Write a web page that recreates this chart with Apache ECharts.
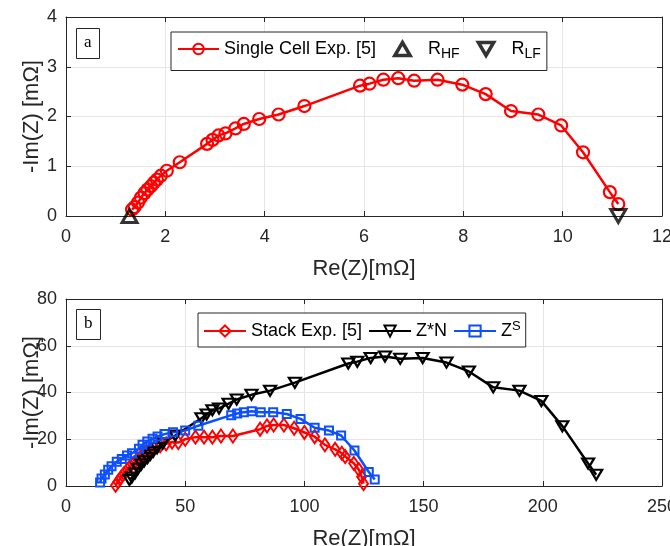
<!DOCTYPE html>
<html>
<head>
<meta charset="utf-8">
<script src="https://cdn.jsdelivr.net/npm/echarts@6/dist/echarts.min.js"></script>
<style>html,body{margin:0;padding:0;background:#fff}#c{width:670px;height:546px}</style>
</head>
<body>
<div id="c"></div>
<script>
// ---- Data ----
const cellRe = [1.33,1.38,1.45,1.51,1.58,1.64,1.71,1.77,1.83,1.91,2.03,2.29,2.84,2.95,3.07,3.21,3.41,3.58,3.89,4.28,4.80,5.92,6.11,6.39,6.69,7.01,7.48,7.98,8.45,8.96,9.51,9.97,10.41,10.95,11.12];
const cellIm = [0.13,0.18,0.27,0.37,0.46,0.53,0.60,0.67,0.73,0.81,0.91,1.08,1.45,1.53,1.62,1.66,1.76,1.85,1.95,2.04,2.21,2.62,2.66,2.74,2.77,2.72,2.74,2.64,2.45,2.11,2.04,1.82,1.28,0.48,0.24];
const rhfRe = [1.28], rhfIm = [0];
const rlfRe = [11.12], rlfIm = [0];

const stackRe = [20.8,21.8,23.0,24.3,25.7,27.0,28.6,30.0,31.5,33.0,35.0,37.0,39.5,42.0,44.5,47.1,50.0,54.3,57.9,61.4,65.0,70.0,81.4,84.3,87.1,91.4,95.7,100.0,104.3,108.6,112.9,115.7,117.1,120.7,122.9,124.0,124.8];
const stackIm = [0.3,1.8,3.6,5.3,7.0,8.6,10.0,11.5,12.8,14.0,15.3,16.3,17.2,18.0,18.8,18.6,20.0,20.9,20.9,20.9,21.4,21.4,24.3,25.7,26.1,26.1,24.7,22.9,21.1,17.6,15.7,14.0,12.6,9.7,6.9,4.0,1.0];
const znRe = [26.6,27.6,29.0,30.2,31.6,32.8,34.2,35.4,36.6,38.2,40.6,45.8,56.8,59.0,61.4,64.2,68.2,71.6,77.8,85.6,96.0,118.4,122.2,127.8,133.8,140.2,149.6,159.6,169.0,179.2,190.2,199.4,208.2,219.0,222.4];
const znIm = [2.6,3.6,5.4,7.4,9.2,10.6,12.0,13.4,14.6,16.2,18.2,21.6,29.0,30.6,32.4,33.2,35.2,37.0,39.0,40.8,44.2,52.4,53.2,54.8,55.4,54.4,54.8,52.8,49.0,42.2,40.8,36.4,25.6,9.6,4.8];
const zsRe = [14.3,14.9,16.3,17.7,19.1,21.3,23.4,25.6,27.7,30.6,32.1,34.1,36.3,38.4,41.3,44.9,50.0,55.5,69.3,71.8,74.6,77.9,81.7,86.9,92.6,98.4,104.3,110.3,115.4,121.0,127.0,129.5];
const zsIm = [1.5,3.2,4.9,6.9,8.4,10.4,11.6,13.1,14.0,15.9,17.6,19.0,20.2,21.2,22.2,23.0,23.7,25.8,30.3,31.0,31.6,32.0,31.6,31.6,30.8,28.7,24.9,23.7,21.6,15.2,6.0,2.8];

const topX = {min: 0, max: 12, interval: 2};
const topY = {min: 0, max: 4, interval: 1};
const botX = {min: 0, max: 250, interval: 50};
const botY = {min: 0, max: 80, interval: 20};
const xName = 'Re(Z)[mΩ]';
const yName = '-Im(Z) [mΩ]';

// ---- Build ----
const zip = (a, b) => a.map((v, i) => [v, b[i]]);
const AX = '#262626';
const FONT = '"Liberation Sans", Arial, Helvetica, sans-serif';
const SERIF = '"Liberation Serif", "Times New Roman", serif';
const UP = 'path://M1,0L2,1.7L0,1.7Z';
const DOWN = 'path://M0,0L2,0L1,1.7Z';

function xAxisDef(g, r, withName) {
  return {
    type: 'value', gridIndex: g, min: r.min, max: r.max, interval: r.interval,
    name: withName ? xName : '', nameLocation: 'middle', nameGap: 42, nameMoveOverlap: false,
    nameTextStyle: {fontFamily: FONT, fontSize: 22, color: AX},
    axisLine: {show: true, onZero: false, lineStyle: {color: AX, width: 1}},
    axisTick: {show: true, inside: true, length: 5, lineStyle: {color: AX}},
    axisLabel: {show: withName, margin: 12, fontFamily: FONT, fontSize: 18, color: AX},
    splitLine: {show: withName, lineStyle: {color: '#e6e6e6', width: 1}}
  };
}
function xTopDef(g, r) {
  const a = xAxisDef(g, r, false);
  a.position = 'top';
  return a;
}
function yAxisDef(g, r, withName) {
  return {
    type: 'value', gridIndex: g, min: r.min, max: r.max, interval: r.interval,
    name: withName ? yName : '', nameLocation: 'middle', nameGap: 23, nameMoveOverlap: false,
    nameTextStyle: {fontFamily: FONT, fontSize: 22, color: AX},
    axisLine: {show: true, onZero: false, lineStyle: {color: AX, width: 1}},
    axisTick: {show: true, inside: true, length: 5, lineStyle: {color: AX}},
    axisLabel: {show: withName, margin: 9, fontFamily: FONT, fontSize: 18, color: AX},
    splitLine: {show: withName, lineStyle: {color: '#e6e6e6', width: 1}}
  };
}
function yRightDef(g, r) {
  const a = yAxisDef(g, r, false);
  a.position = 'right';
  return a;
}

const rich = {
  r: {fontFamily: FONT, fontSize: 18, color: '#000'},
  sub: {fontFamily: FONT, fontSize: 14, color: '#000', padding: [11, 0, 0, 0]},
  sup: {fontFamily: FONT, fontSize: 13, color: '#000', padding: [0, 0, 9, 0]}
};
function legendFmt(name) {
  if (name === 'R_HF') return '{r|R}{sub|HF}';
  if (name === 'R_LF') return '{r|R}{sub|LF}';
  if (name === 'Z^S') return '{r|Z}{sup|S}';
  return '{r|' + name + '}';
}

const hollow = (c, w) => ({color: 'rgba(255,255,255,0)', borderColor: c, borderWidth: w});

const option = {
  animation: false,
  backgroundColor: '#fff',
  title: [
    {text: 'a', left: 76, top: 28, borderColor: AX, borderWidth: 1, padding: [6, 8, 8, 8],
     backgroundColor: '#fff', textStyle: {fontFamily: SERIF, fontSize: 17, fontWeight: 'normal', color: '#000'}},
    {text: 'b', left: 76, top: 309, borderColor: AX, borderWidth: 1, padding: [6, 8, 8, 8],
     backgroundColor: '#fff', textStyle: {fontFamily: SERIF, fontSize: 17, fontWeight: 'normal', color: '#000'}}
  ],
  grid: [
    {left: 66, top: 17, width: 596, height: 199, show: false, containLabel: false, outerBoundsMode: 'none'},
    {left: 66, top: 299, width: 596, height: 187, show: false, containLabel: false, outerBoundsMode: 'none'}
  ],
  xAxis: [xAxisDef(0, topX, true), xTopDef(0, topX), xAxisDef(1, botX, true), xTopDef(1, botX)],
  yAxis: [yAxisDef(0, topY, true), yRightDef(0, topY), yAxisDef(1, botY, true), yRightDef(1, botY)],
  legend: [
    {
      data: [
        'Single Cell Exp. [5]',
        {name: 'R_HF', itemStyle: {borderWidth: 3.5}},
        {name: 'R_LF', itemStyle: {borderWidth: 3.5}}
      ],
      left: 171, top: 32, orient: 'horizontal',
      itemWidth: 41, itemHeight: 13, itemGap: 17,
      padding: [8, 6, 9, 6],
      backgroundColor: '#fff', borderColor: AX, borderWidth: 1,
      formatter: legendFmt,
      textStyle: {fontFamily: FONT, fontSize: 18, color: '#000', rich: rich}
    },
    {
      data: ['Stack Exp. [5]', 'Z*N', 'Z^S'],
      left: 198, top: 313, orient: 'horizontal',
      itemWidth: 42, itemHeight: 14, itemGap: 6,
      padding: [7, 5, 7, 5],
      backgroundColor: '#fff', borderColor: AX, borderWidth: 1,
      formatter: legendFmt,
      textStyle: {fontFamily: FONT, fontSize: 18, color: '#000', rich: rich}
    }
  ],
  series: [
    {
      name: 'Single Cell Exp. [5]', type: 'line', xAxisIndex: 0, yAxisIndex: 0,
      data: zip(cellRe, cellIm), symbol: 'circle', symbolSize: 12,
      lineStyle: {color: '#ff0000', width: 2.5}, itemStyle: hollow('#ff0000', 2.2), color: '#ff0000'
    },
    {
      name: 'R_HF', type: 'scatter', xAxisIndex: 0, yAxisIndex: 0, clip: false,
      data: zip(rhfRe, rhfIm), symbol: UP, symbolSize: [15, 13],
      itemStyle: hollow('#000', 3), z: 5
    },
    {
      name: 'R_LF', type: 'scatter', xAxisIndex: 0, yAxisIndex: 0, clip: false,
      data: zip(rlfRe, rlfIm), symbol: DOWN, symbolSize: [15, 13],
      itemStyle: hollow('#000', 3), z: 5
    },
    {
      name: 'Stack Exp. [5]', type: 'line', xAxisIndex: 2, yAxisIndex: 2, clip: false,
      data: zip(stackRe, stackIm), symbol: 'diamond', symbolSize: [9, 13],
      lineStyle: {color: '#ff0000', width: 2.5}, itemStyle: hollow('#ff0000', 2), color: '#ff0000'
    },
    {
      name: 'Z*N', type: 'line', xAxisIndex: 2, yAxisIndex: 2, clip: false,
      data: zip(znRe, znIm), symbol: DOWN, symbolSize: [12, 10],
      lineStyle: {color: '#000', width: 2.5}, itemStyle: hollow('#000', 2.2), color: '#000'
    },
    {
      name: 'Z^S', type: 'line', xAxisIndex: 2, yAxisIndex: 2, clip: false,
      data: zip(zsRe, zsIm), symbol: 'rect', symbolSize: 8,
      lineStyle: {color: '#0b4fff', width: 2.5}, itemStyle: hollow('#0b4fff', 2), color: '#0b4fff'
    }
  ]
};

const chart = echarts.init(document.getElementById('c'), null, {renderer: 'canvas'});
chart.setOption(option);
</script>
</body>
</html>
